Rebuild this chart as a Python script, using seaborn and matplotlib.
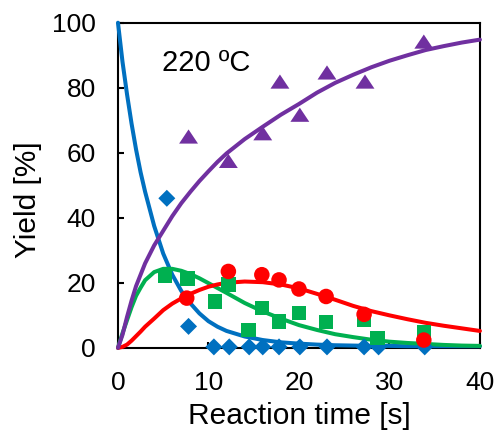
import numpy as np
import pandas as pd
import matplotlib.pyplot as plt
import seaborn as sns

sns.set_theme(style="white")
plt.rcParams["font.family"] = ["Liberation Sans", "DejaVu Sans"]

t_blue = [5.4, 7.8, 10.6, 12.3, 14.5, 16.0, 17.8, 20.1, 23.1, 27.2, 28.8, 33.9]
y_blue = [46.0, 6.6, 0.3, 0.3, 0.3, 0.3, 0.3, 0.3, 0.3, 0.3, 0.3, 0.3]

t_green = [5.2, 7.7, 10.7, 12.2, 14.4, 15.9, 17.8, 20.0, 23.0, 27.2, 28.7, 33.8]
y_green = [22.1, 21.4, 14.2, 19.4, 5.5, 12.2, 8.1, 10.7, 7.9, 8.6, 3.0, 4.7]

t_red = [7.6, 12.2, 15.9, 17.8, 20.0, 23.0, 27.2, 33.8]
y_red = [15.3, 23.5, 22.5, 20.9, 18.1, 15.8, 10.3, 2.4]

t_purple = [7.8, 12.2, 16.0, 17.9, 20.1, 23.1, 27.3, 33.8]
y_purple = [65.0, 57.5, 66.0, 81.9, 71.7, 84.7, 81.9, 94.2]

# fitted curves
t_fit = [0, 0.5, 1, 1.5, 2, 2.5, 3, 4, 5, 6, 7, 8, 9, 10, 11, 12, 14, 16, 18,
         20, 22, 24, 26, 28, 30, 32, 34, 36, 38, 40]
fit_blue = [100, 88, 78, 69, 61, 54, 48, 37.5, 29, 22.5, 17.5, 13.7, 10.6, 8.2,
            6.5, 5.2, 3.5, 2.4, 1.7, 1.3, 1.0, 0.8, 0.7, 0.6, 0.6, 0.5, 0.5,
            0.5, 0.5, 0.5]
fit_green = [0, 4.5, 8.5, 12.5, 16.0, 18.5, 20.8, 23.3, 24.3, 24.3, 23.7, 22.7,
             21.4, 19.9, 18.4, 16.9, 13.8, 11.2, 9.0, 7.0, 5.5, 4.2, 3.3, 2.5,
             1.9, 1.5, 1.2, 0.9, 0.7, 0.6]
fit_red = [0, 0.3, 1.0, 2.2, 3.6, 5.0, 6.5, 9.0, 11.6, 13.6, 15.2, 16.6, 17.8,
           18.8, 19.5, 20.0, 20.4, 20.2, 19.5, 18.3, 16.6, 14.8, 12.9, 11.3,
           10.0, 8.8, 7.7, 6.8, 6.0, 5.2]
fit_purple = [0, 4, 9.5, 14.5, 19, 22.5, 26, 31.5, 36, 40.5, 44.5, 48, 51.3,
              54.3, 57.2, 59.8, 64.2, 68, 71.7, 75, 78.5, 81.5, 84.0, 86.3,
              88.3, 90.0, 91.6, 92.8, 93.9, 94.8]

colors = {"blue": "#0070C0", "green": "#00B050", "red": "#FF0000", "purple": "#7030A0"}

fig, ax = plt.subplots(figsize=(5.02, 4.37), dpi=100)
fig.subplots_adjust(left=0.235, right=0.956, bottom=0.204, top=0.948)

fits = pd.DataFrame({"t": t_fit, "blue": fit_blue, "green": fit_green,
                     "red": fit_red, "purple": fit_purple})
for name in ["blue", "green", "red", "purple"]:
    sns.lineplot(data=fits, x="t", y=name, ax=ax, color=colors[name],
                 lw=2.9, clip_on=False, zorder=3)

tri = [(-1, -0.75), (1, -0.75), (0, 0.75)]
sns.scatterplot(x=t_blue, y=y_blue, ax=ax, marker="D", s=75, color=colors["blue"],
                edgecolor="none", clip_on=False, zorder=5)
sns.scatterplot(x=t_green, y=y_green, ax=ax, marker="s", s=110, color=colors["green"],
                edgecolor="none", clip_on=False, zorder=6)
sns.scatterplot(x=t_red, y=y_red, ax=ax, marker="o", s=125, color=colors["red"],
                edgecolor="none", clip_on=False, zorder=7)
sns.scatterplot(x=t_purple, y=y_purple, ax=ax, marker=tri, s=185, color=colors["purple"],
                edgecolor="none", clip_on=False, zorder=8)

ax.set_xlim(0, 40)
ax.set_ylim(0, 100)
ax.set_xticks([0, 10, 20, 30, 40])
ax.set_yticks([0, 20, 40, 60, 80, 100])
for sp in ax.spines.values():
    sp.set_color("black")
    sp.set_linewidth(1.5)
ax.tick_params(axis="both", direction="in", length=4.5, width=1.5, colors="black",
               labelsize=19, left=True, bottom=True, top=False, right=False)
ax.tick_params(axis="x", pad=17)
ax.tick_params(axis="y", pad=16)

ax.set_xlabel("Reaction time [s]", fontsize=21.5, color="black", labelpad=5)
ax.set_ylabel("Yield [%]", fontsize=21.5, color="black")
ax.yaxis.set_label_coords(-0.21, 0.455)

ax.text(4.9, 85.0, "220 ºC", fontsize=21, color="black", ha="left", va="baseline")

fig.savefig("out.png", dpi=100)
